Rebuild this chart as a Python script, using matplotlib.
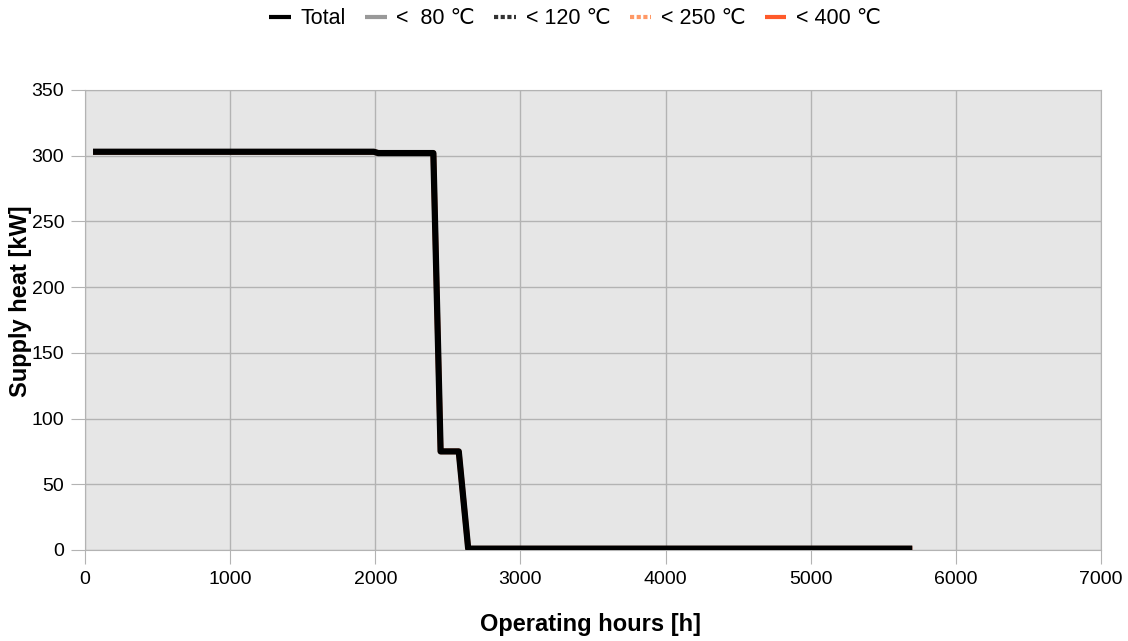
import numpy as np
import matplotlib
matplotlib.use("Agg")
import matplotlib.pyplot as plt

plt.rcParams['font.family'] = ['Liberation Sans', 'DejaVu Sans']

# load duration curve data
hours = [55, 1990, 2020, 2400, 2450, 2575, 2640, 5700]
total = [303, 303, 302, 302, 75, 75, 1, 1]
below_80 = [303, 303, 302, 302, 75, 75, 1, 1]
below_120 = [303, 303, 302, 302, 75, 75, 1, 1]
below_250 = [303, 303, 302, 302, 75, 75, 1, 1]
below_400 = [303, 303, 302, 302, 75, 75, 1, 1]

labels = ["Total", "<  80 \u2103", "< 120 \u2103", "< 250 \u2103", "< 400 \u2103"]
x_ticks = [0, 1000, 2000, 3000, 4000, 5000, 6000, 7000]
y_ticks = [0, 50, 100, 150, 200, 250, 300, 350]

fig = plt.figure(figsize=(11.28, 6.41), dpi=100)
ax = fig.add_axes([0.0754, 0.142, 0.9006, 0.7176])
ax.set_facecolor("#e6e6e6")

h80, = ax.plot(hours, below_80, color="#999999", lw=3, zorder=2, solid_capstyle="butt")
h120, = ax.plot(hours, below_120, color="#333333", lw=3, ls=(0, (1, 0.6)), zorder=2,
                dash_capstyle="butt")
h250, = ax.plot(hours, below_250, color="#ff9966", lw=3, ls=(0, (1, 0.6)), zorder=2,
                dash_capstyle="butt")
h400, = ax.plot(hours, below_400, color="#ff5a2a", lw=4, zorder=3, solid_capstyle="butt")
h_tot, = ax.plot(hours, total, color="black", lw=4.5, zorder=5, solid_capstyle="butt")

ax.set_xlim(0, 7000)
ax.set_ylim(0, 350)
ax.set_xticks(x_ticks)
ax.set_yticks(y_ticks)
ax.grid(True, color="#b3b3b3", lw=1)
ax.set_axisbelow(True)
for s in ax.spines.values():
    s.set_color("#b3b3b3")
ax.tick_params(direction="out", length=10, color="#b3b3b3", labelsize=14, pad=5)

fig.text(591 / 1128, 1 - 625 / 641, "Operating hours [h]", fontsize=17,
         fontweight="bold", ha="center", va="center")
fig.text(21 / 1128, 1 - 301 / 641, "Supply heat [kW]", fontsize=17,
         fontweight="bold", ha="center", va="center", rotation=90)

leg = fig.legend([h_tot, h80, h120, h250, h400], labels, loc="center",
                 bbox_to_anchor=(575 / 1128, 1 - 19 / 641), ncol=5, frameon=False,
                 fontsize=15.5, handlelength=1.0, handletextpad=0.45, columnspacing=0.9)
for line in leg.get_lines():
    line.set_linewidth(3)

fig.savefig("out.png", dpi=100)
